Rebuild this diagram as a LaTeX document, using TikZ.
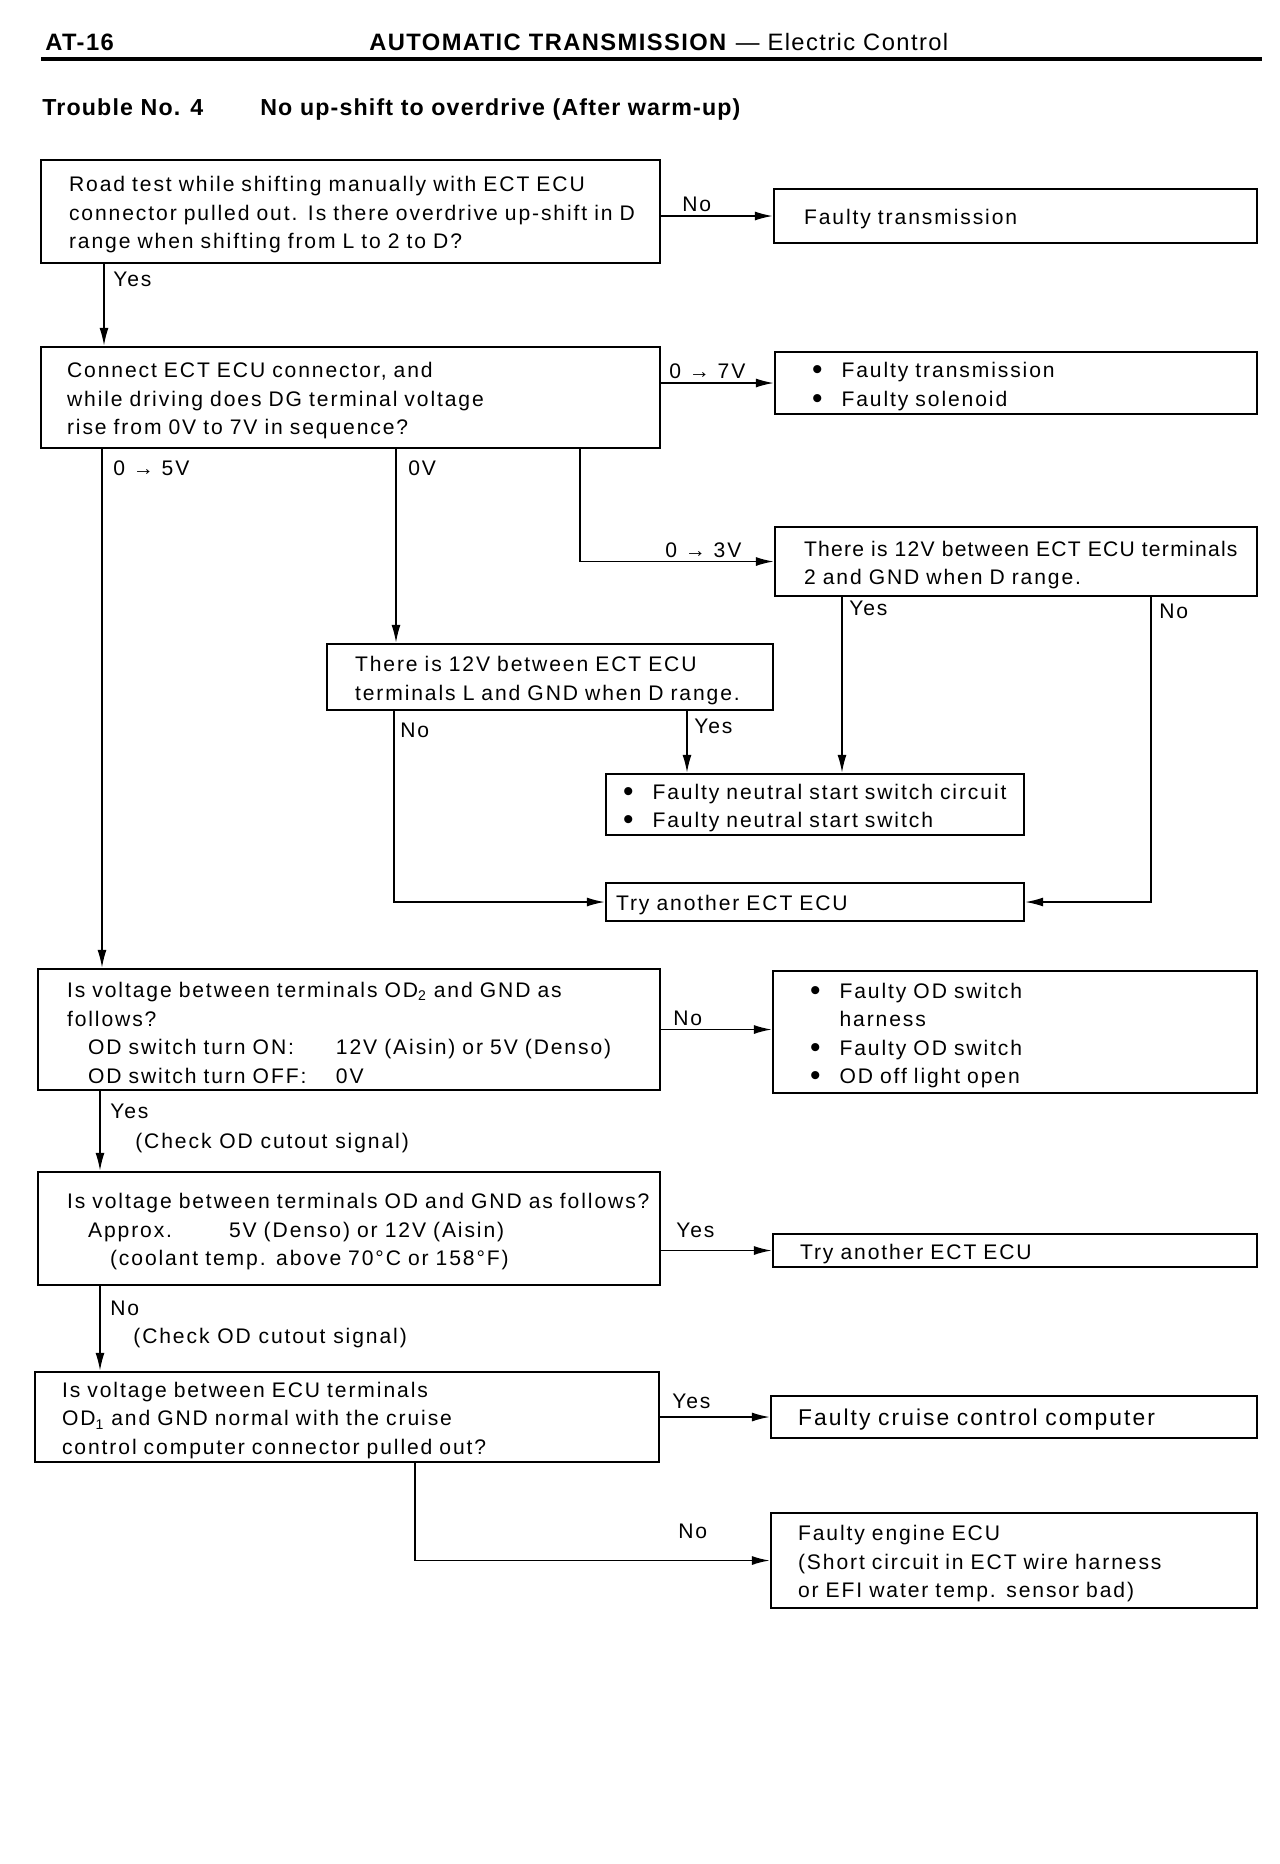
\documentclass[tikz,border=0pt]{standalone}
\usepackage{fontspec}
\setmainfont{Liberation Sans}[LetterSpace=9]
\newfontfamily\headfont{Liberation Sans}[LetterSpace=6]
\newfontfamily\troublefont{Liberation Sans}[LetterSpace=5]
\newfontfamily\tightfont{Liberation Sans}[LetterSpace=6]
\usetikzlibrary{arrows.meta}

% bullet line of a result box
\newcommand{\itm}[1]{\mbox{\makebox[0.59cm][l]{\raisebox{-0.2ex}{\fontsize{17pt}{17pt}\selectfont\textbullet}}#1}}

\begin{document}
\begin{tikzpicture}[
    x=0.02cm, y=-0.02cm,
    >={Latex[length=0.36cm,width=0.18cm]},
    every node/.style={font=\fontsize{12pt}{16.2pt}\selectfont},
    box/.style={
        rectangle,
        draw,
        line width=1.3pt,
        inner sep=0pt,
        text height=12.6pt,
        align=left
    },
    lab/.style={anchor=base west, inner sep=0pt},
    link/.style={->, line width=1pt}
]
    \useasboundingbox[fill=white] (0,0) rectangle (1280,1864);

    % === PAGE HEADER ===
    \node[anchor=base west, inner sep=0pt, font=\fontsize{13.5pt}{16pt}\headfont\bfseries] (page) at (45,50) {AT-16};
    \node[anchor=base west, inner sep=0pt, font=\fontsize{13.5pt}{16pt}\headfont] (title) at (369,50) {\textbf{AUTOMATIC TRANSMISSION} — Electric Control};
    \draw[line width=0.08cm] (41,59) -- (1262,59);

    \node[anchor=base west, inner sep=0pt, font=\fontsize{13.2pt}{16pt}\troublefont\bfseries] (trouble) at (42,115) {Trouble No. 4};
    \node[anchor=base west, inner sep=0pt, font=\fontsize{13.2pt}{16pt}\troublefont\bfseries] (symptom) at (260,115) {No up-shift to overdrive (After warm-up)};

    % === QUESTIONS ===
    \node[box, minimum width=12.38cm, minimum height=2.06cm, text width=11.26cm] (q1) at (350.5,211.5) {%
        \mbox{Road test while shifting manually with ECT ECU}\\
        \mbox{connector pulled out. Is there overdrive up-shift in D}\\
        \mbox{range when shifting from L to 2 to D?}};
    \node[box, minimum width=12.38cm, minimum height=2.02cm, text width=11.34cm] (q2) at (350.5,397.5) {%
        Connect ECT ECU connector, and\\
        while driving does DG terminal voltage\\
        rise from 0V to 7V in sequence?};
    \node[box, minimum width=9.64cm, minimum height=1.38cm, text width=8.48cm] (q3) at (1016,561.5) {%
        \mbox{\tightfont There is 12V between ECT ECU terminals}\\
        2 and GND when D range.};
    \node[box, minimum width=8.92cm, minimum height=1.32cm, text width=7.8cm] (q4) at (550,677) {%
        There is 12V between ECT ECU\\
        \mbox{terminals L and GND when D range.}};
    \node[box, minimum width=12.44cm, minimum height=2.42cm, text width=11.28cm] (q5) at (349,1029.5) {%
        \mbox{Is voltage between terminals OD\textsubscript{2} and GND as}\\
        follows?\\
        \mbox{\hspace*{0.42cm}\makebox[4.96cm][l]{OD switch turn ON:}12V (Aisin) or 5V (Denso)}\\
        \mbox{\hspace*{0.42cm}\makebox[4.96cm][l]{OD switch turn OFF:}0V}};
    \node[box, minimum width=12.44cm, minimum height=2.26cm, text width=11.28cm] (q6) at (349,1228.5) {%
        \mbox{Is voltage between terminals OD and GND as follows?}\\
        \mbox{\hspace*{0.42cm}\makebox[2.82cm][l]{Approx.}5V (Denso) or 12V (Aisin)}\\
        \mbox{\hspace*{0.86cm}(coolant temp. above 70°C or 158°F)}};
    \node[box, minimum width=12.48cm, minimum height=1.8cm, text width=11.4cm] (q7) at (347,1417) {%
        Is voltage between ECU terminals\\
        \mbox{OD\textsubscript{1} and GND normal with the cruise}\\
        \mbox{control computer connector pulled out?}};

    % === RESULTS ===
    \node[box, minimum width=9.66cm, minimum height=1.08cm, text width=8.46cm] (r1) at (1015.5,216) {Faulty transmission};
    \node[box, minimum width=9.64cm, minimum height=1.24cm, text width=8.16cm] (r2) at (1016,383) {%
        \itm{Faulty transmission}\\
        \itm{Faulty solenoid}};
    \node[box, minimum width=8.36cm, minimum height=1.22cm, text width=7.68cm] (r3) at (815,804.5) {%
        \itm{Faulty neutral start switch circuit}\\
        \itm{Faulty neutral start switch}};
    \node[box, minimum width=8.36cm, minimum height=0.76cm, text width=7.96cm] (r4) at (815,902) {Try another ECT ECU};
    \node[box, minimum width=9.68cm, minimum height=2.44cm, text width=8.2cm] (r5) at (1015,1032) {%
        \itm{Faulty OD switch}\\
        \hspace*{0.59cm}harness\\
        \itm{Faulty OD switch}\\
        \itm{OD off light open}};
    \node[box, minimum width=9.68cm, minimum height=0.66cm, text width=8.6cm] (r6) at (1015,1250.5) {Try another ECT ECU};
    \node[box, minimum width=9.72cm, minimum height=0.84cm, text width=8.64cm, font=\fontsize{13pt}{15pt}\selectfont] (r7) at (1014,1417) {Faulty cruise control computer};
    \node[box, minimum width=9.72cm, minimum height=1.9cm, text width=8.64cm] (r8) at (1014,1560.5) {%
        Faulty engine ECU\\
        \mbox{(Short circuit in ECT wire harness}\\
        \mbox{or EFI water temp. sensor bad)}};

    % === CONNECTORS ===
    \draw[link] (q1.east |- r1.west) -- (r1.west);
    \draw[link] (104,0 |- q1.south) -- (104,0 |- q2.north);

    \draw[link] (q2.east |- r2.west) -- (r2.west);
    \draw[link] (102,0 |- q2.south) -- (102,0 |- q5.north);
    \draw[link] (396,0 |- q2.south) -- (396,0 |- q4.north);
    \draw[link] (580,0 |- q2.south) |- (q3.west);

    \draw[link] (842,0 |- q3.south) -- (842,0 |- r3.north);
    \draw[link] (1151,0 |- q3.south) |- (r4.east);

    \draw[link] (394,0 |- q4.south) |- (r4.west);
    \draw[link] (687,0 |- q4.south) -- (687,0 |- r3.north);

    \draw[link] (q5.east) -- (q5.east -| r5.west);
    \draw[link] (100,0 |- q5.south) -- (100,0 |- q6.north);

    \draw[link] (q6.east |- r6.west) -- (r6.west);
    \draw[link] (100,0 |- q6.south) -- (100,0 |- q7.north);

    \draw[link] (q7.east) -- (r7.west);
    \draw[link] (415,0 |- q7.south) |- (r8.west);

    % Branch labels
    \node[lab] (lq1no) at (682,211) {No};
    \node[lab] (lq1yes) at (113,286) {Yes};
    \node[lab] (lq2a) at (669,378) {0 → 7V};
    \node[lab] (lq2b) at (113,475) {0 → 5V};
    \node[lab] (lq2c) at (408,475) {0V};
    \node[lab] (lq2d) at (665,557) {0 → 3V};
    \node[lab] (lq3yes) at (849,615) {Yes};
    \node[lab] (lq3no) at (1159,618) {No};
    \node[lab] (lq4no) at (400,737) {No};
    \node[lab] (lq4yes) at (694,733) {Yes};
    \node[lab] (lq5no) at (673,1025) {No};
    \node[lab] (lq5yes) at (110,1118) {Yes};
    \node[lab] (lq5note) at (135,1148) {(Check OD cutout signal)};
    \node[lab] (lq6yes) at (676,1237) {Yes};
    \node[lab] (lq6no) at (110,1315) {No};
    \node[lab] (lq6note) at (133,1343) {(Check OD cutout signal)};
    \node[lab] (lq7yes) at (672,1408) {Yes};
    \node[lab] (lq7no) at (678,1538) {No};
\end{tikzpicture}
\end{document}
